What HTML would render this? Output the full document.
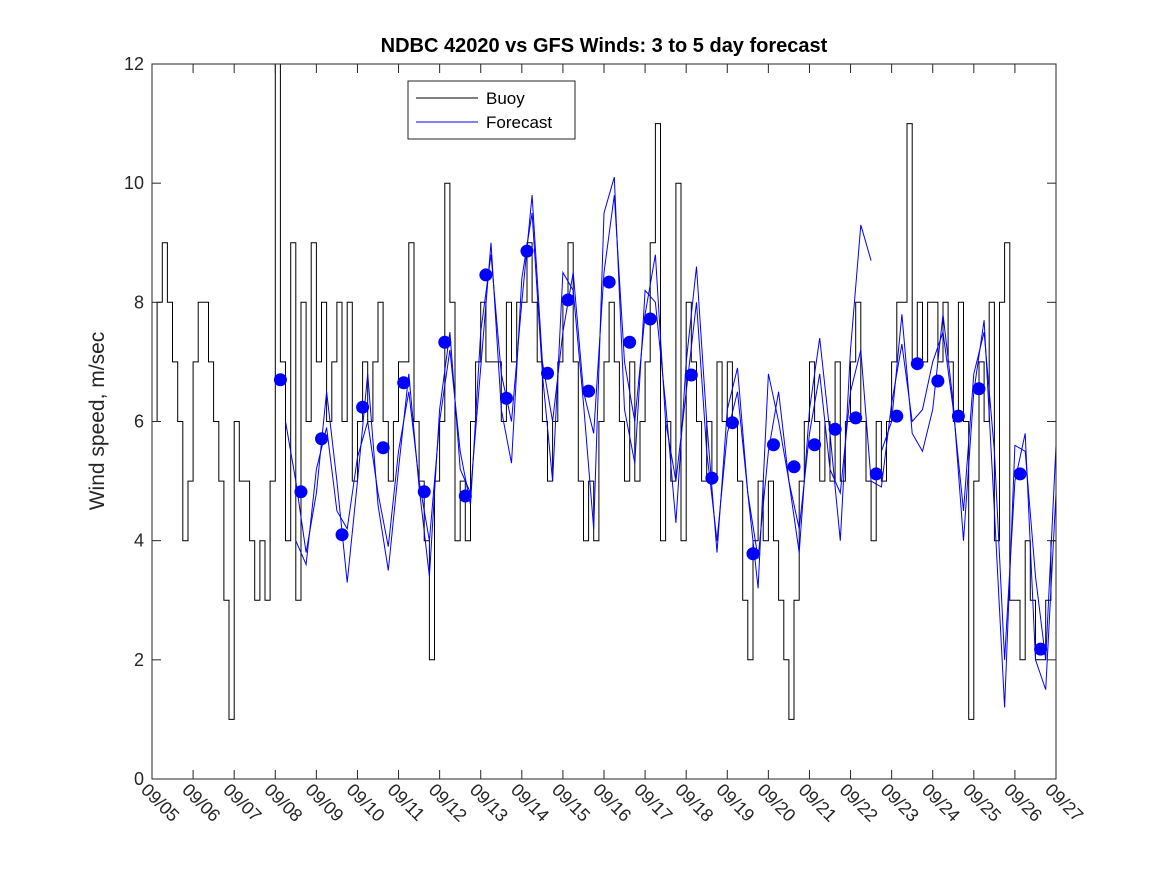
<!DOCTYPE html>
<html><head><meta charset="utf-8"><style>
body{margin:0;background:#fff;}
svg{display:block;font-family:"Liberation Sans","DejaVu Sans",sans-serif;}
</style></head>
<body>
<svg id="chart" width="1167" height="875">
<rect width="1167" height="875" fill="#fff"/>
<text x="604" y="52" text-anchor="middle" font-size="20" font-weight="bold" fill="#000">NDBC 42020 vs GFS Winds: 3 to 5 day forecast</text>
<text transform="translate(104,421) rotate(-90)" text-anchor="middle" font-size="21" fill="#262626">Wind speed, m/sec</text>
<g id="plot"></g>
<g id="axes"></g>
<g>
<rect x="408" y="81" width="167" height="58" fill="#fff" stroke="#262626" stroke-width="1"/>
<line x1="416" y1="98" x2="478" y2="98" stroke="#000"/>
<text x="486" y="104" font-size="17" fill="#000">Buoy</text>
<line x1="416" y1="122" x2="478" y2="122" stroke="#00f"/>
<text x="486" y="128" font-size="17" fill="#000">Forecast</text>
</g>
</svg>
<script>
const xTickLabels=["09/05","09/06","09/07","09/08","09/09","09/10","09/11","09/12","09/13","09/14","09/15","09/16","09/17","09/18","09/19","09/20","09/21","09/22","09/23","09/24","09/25","09/26","09/27"];
const yTicks=[0,2,4,6,8,10,12];
// buoy: 3-hourly values starting day 0
const buoyValues=[6,8,9,8,7,6,4,5, 7,8,8,7,6,5,3,1, 6,5,5,4,3,4,3,5, 12,7,4,9,3,8,6,9, 7,8,6,7,8,6,8,5, 6,7,6,7,8,6,5,6, 7,7,9,6,5,4,2,5, 6,10,8,4,5,4,6,7, 8,7,7,7,6,8,7,8, 8,9,8,7,6,5,6,7, 8,9,7,5,4,5,4,6, 7,8,7,6,5,7,5,6, 7,9,11,4,6,5,10,4, 8,7,6,5,6,5,7,6, 7,6,5,3,2,4,5,4, 5,4,3,2,1,3,5,6, 7,6,5,6,5,7,5,6, 7,8,6,5,4,6,5,6, 7,8,8,11,7,8,7,8, 8,7,8,7,6,8,6,1, 5,7,6,8,4,8,9,3, 3,2,4,3,2,2,3,4];
const buoyStepDays=0.125;
const dotDays=[3.125,3.625,4.125,4.625,5.125,5.625,6.125,6.625,7.125,7.625,8.125,8.625,9.125,9.625,10.125,10.625,11.125,11.625,12.125,13.125,13.625,14.125,14.625,15.125,15.625,16.125,16.625,17.125,17.625,18.125,18.625,19.125,19.625,20.125,21.125,21.625];
const dotValues=[6.70,4.82,5.71,4.10,6.24,5.56,6.65,4.82,7.33,4.75,8.46,6.39,8.86,6.81,8.04,6.51,8.34,7.33,7.72,6.78,5.05,5.98,3.78,5.61,5.24,5.61,5.87,6.06,5.12,6.09,6.97,6.68,6.09,6.55,5.12,2.18];
const forecastAStart=3.5;
const forecastAValues=[4.0,3.6,5.2,5.9,4.5,4.2,5.4,6.0,4.8,3.9,5.5,6.5,5.0,4.0,6.0,7.2,5.5,4.6,7.5,8.8,6.8,6.0,8.0,9.8,7.0,6.0,7.5,8.5,6.5,5.8,8.5,9.8,7.0,6.0,7.8,8.8,6.0,5.0,6.5,8.0,5.5,4.0,5.8,6.5,4.8,3.7,5.5,6.5,5.0,4.2,5.8,6.8,5.2,4.8,6.5,7.2,5.0,4.9,6.3,7.3,6.0,6.2,7.0,7.5,6.2,4.5,6.8,7.5,5.5,2.0,5.0,5.8,2.0,1.5,4.8];
const forecastBStart=3.25;
const forecastBValues=[6.0,5.0,3.8,4.8,6.5,5.0,3.3,5.0,6.8,4.6,3.5,5.2,6.8,4.9,3.4,6.2,7.5,5.2,4.8,6.9,9.0,6.2,5.3,8.4,9.5,6.8,5.0,8.5,8.2,6.3,4.2,9.5,10.1,6.2,5.3,8.2,8.0,6.3,4.3,7.0,8.6,6.0,3.8,6.2,6.9,4.8,3.2,6.8,6.0,5.0,3.8,6.2,7.4,5.8,4.0,7.2,9.3,8.7];
const forecastCStart=17.75;
const forecastCValues=[5.5,6.0,7.8,5.8,5.5,6.2,7.8,6.3,4.0,6.5,7.7,4.5,1.2,5.6,5.5,3.4,2.0,5.6];
const forecastStepDays=0.25;

const X0=152,X1=1056,Y0=779,Y1=64,DAYS=22,YMAX=12;
const xs=d=>X0+(X1-X0)*d/DAYS;
const ys=v=>Y0-(Y0-Y1)*v/YMAX;
const NS="http://www.w3.org/2000/svg";
const plot=document.getElementById('plot');
const axes=document.getElementById('axes');
function mk(tag,attrs,parent){const e=document.createElementNS(NS,tag);for(const k in attrs)e.setAttribute(k,attrs[k]);parent.appendChild(e);return e;}

// buoy step line
let d="";
buoyValues.forEach((v,i)=>{const x0=xs(i*buoyStepDays),x1=xs(Math.min((i+1)*buoyStepDays,DAYS));d+=(i===0?"M":"L")+x0.toFixed(1)+","+ys(v).toFixed(1)+"L"+x1.toFixed(1)+","+ys(v).toFixed(1);});
const buoy=mk('path',{d:d,fill:'none',stroke:'#000','stroke-width':1},plot);



function fline(start,vals,name){
  const p=vals.map((v,i)=>xs(start+i*forecastStepDays).toFixed(1)+","+ys(v).toFixed(1)).join(" ");
  const e=mk('polyline',{points:p,fill:'none',stroke:'#00f','stroke-width':1},plot);
  
  
}
fline(forecastAStart,forecastAValues,'forecast-line-a');
fline(forecastBStart,forecastBValues,'forecast-line-b');
fline(forecastCStart,forecastCValues,'forecast-line-c');

dotDays.forEach((dd,i)=>{
  const c=mk('circle',{cx:xs(dd),cy:ys(dotValues[i]),r:6.5,fill:'#00f'},plot);
  
  
});

// axes box
const box=mk('rect',{x:X0,y:Y1,width:X1-X0,height:Y0-Y1,fill:'none',stroke:'#262626','stroke-width':1},axes);


yTicks.forEach(v=>{
  const y=ys(v);
  mk('line',{x1:X0,y1:y,x2:X0+9,y2:y,stroke:'#262626'},axes);
  mk('line',{x1:X1,y1:y,x2:X1-9,y2:y,stroke:'#262626'},axes);
  const t=mk('text',{x:X0-8,y:y+6,'text-anchor':'end','font-size':18,fill:'#262626'},axes);
  t.textContent=v;
  
  
});
xTickLabels.forEach((lab,i)=>{
  const x=xs(i);
  mk('line',{x1:x,y1:Y0,x2:x,y2:Y0-9,stroke:'#262626'},axes);
  mk('line',{x1:x,y1:Y1,x2:x,y2:Y1+9,stroke:'#262626'},axes);
  const t=mk('text',{transform:`translate(${x-12},${Y0+12}) rotate(45)`,'font-size':18,fill:'#262626'},axes);
  t.textContent=lab;
  
  
});
</script>
</body></html>
